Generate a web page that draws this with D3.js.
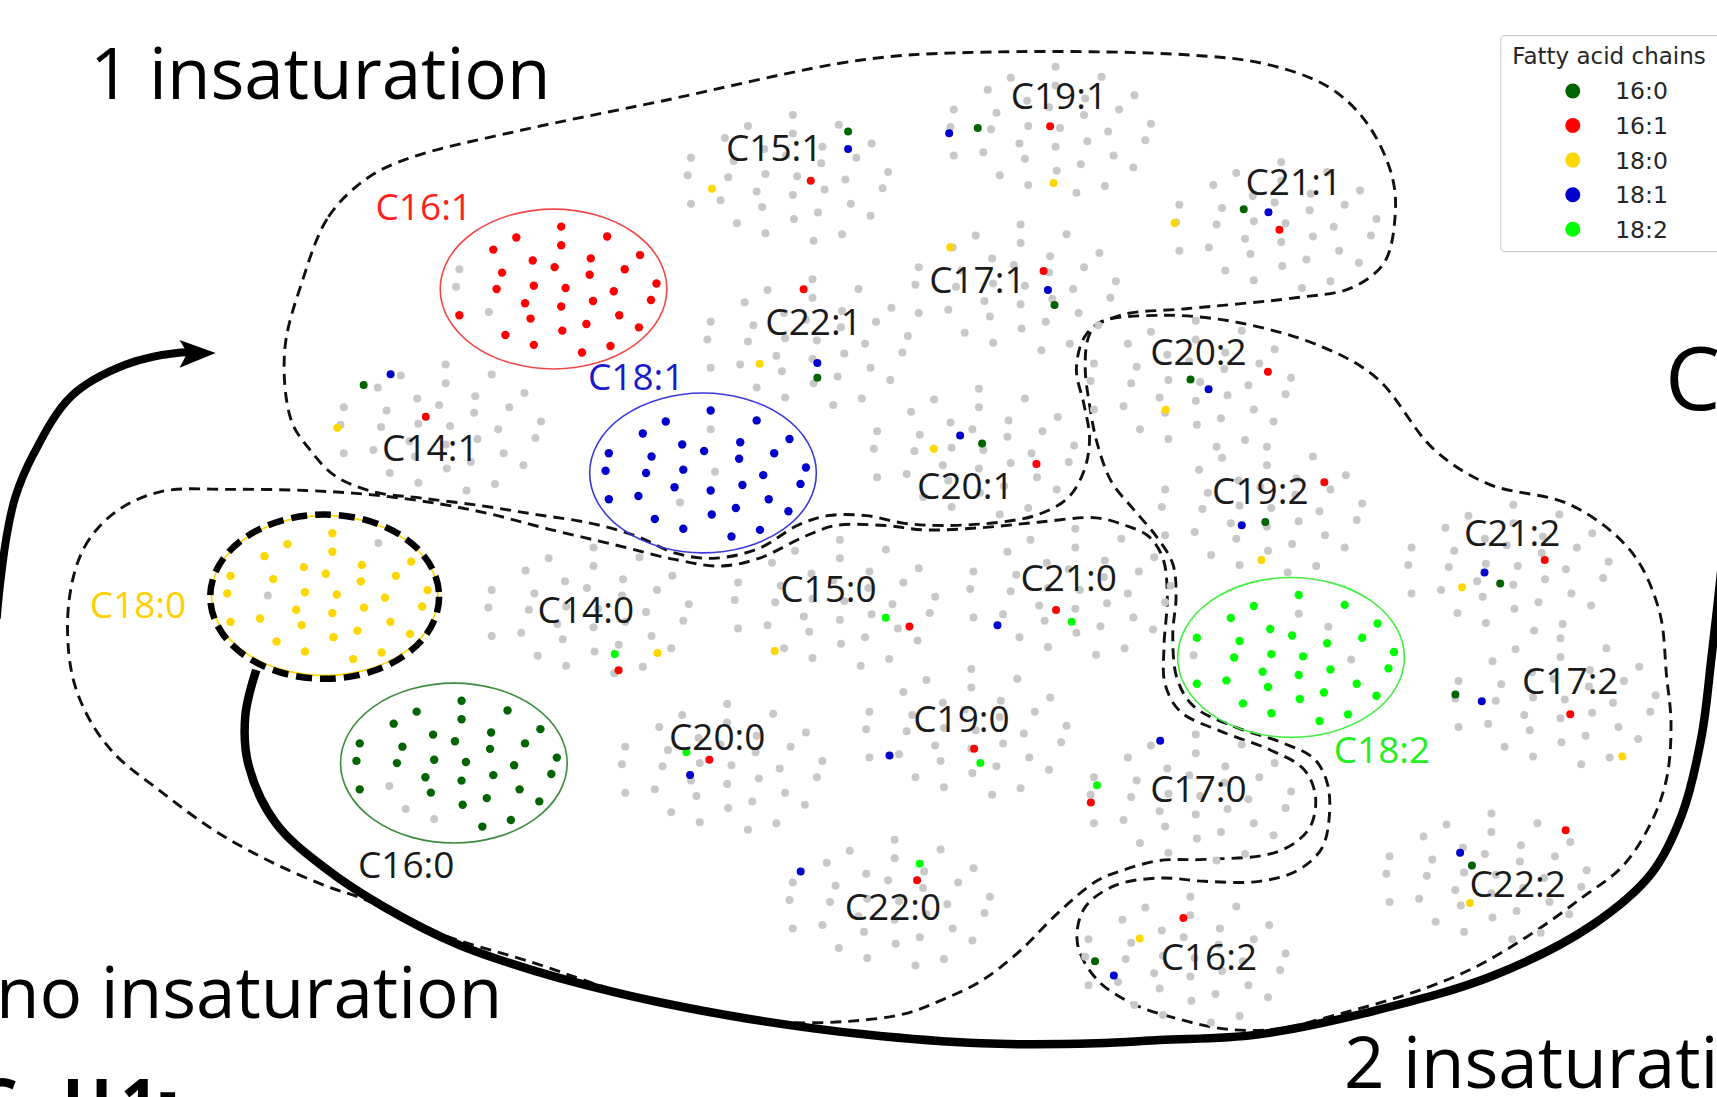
<!DOCTYPE html>
<html>
<head>
<meta charset="utf-8">
<script src="https://cdn.jsdelivr.net/npm/d3@7"></script>
<style>
  html, body { margin: 0; padding: 0; background: #fff; overflow: hidden; }
  svg { display: block; }
</style>
</head>
<body>
<svg id="chart" width="1717" height="1097"></svg>
<script>
// ---------------- DATA (map units) ----------------
const chainCategories = ["16:0", "16:1", "18:0", "18:1", "18:2"];

const clusterNames = ["C15:1","C19:1","C21:1","C17:1","C22:1","C14:1","C20:1","C20:2","C19:2","C21:2",
                      "C14:0","C15:0","C21:0","C20:0","C19:0","C17:2","C17:0","C22:0","C22:2","C16:2",
                      "C16:1","C18:1","C18:0","C16:0","C18:2"];
const clusterX = [717, 957, 1163, 925, 735, 400, 887, 1085, 1150, 1375,
                  535, 760, 975, 657, 880, 1418, 1085, 810, 1355, 1080,
                  505.5, 642, 296.5, 414.5, 1179];
const clusterY = [162, 118, 205, 262, 312, 390, 412, 350, 465, 518,
                  557, 550, 540, 700, 668, 640, 728, 824, 800, 876,
                  264, 432, 544, 697, 600.5];
const labelX = [707, 967, 1181.5, 892.6, 743, 393, 881.6, 1094.5, 1151, 1381,
                535, 756.6, 976, 655, 878, 1434, 1094.5, 815.5, 1386, 1104,
                387, 581, 126, 371, 1262];
const labelY = [147, 99.3, 177.8, 267.5, 306, 421, 455.5, 333, 460.6, 498.6,
                569.4, 549.5, 539.7, 684.8, 668.3, 633.5, 733, 840, 819.2, 886,
                201, 356, 564.4, 801.8, 696.8];

// Point pattern of one cluster (offsets from its centre), read from the C16:1 cluster
const patternDX = [7, -34, 49, -55, 7, 79, -19, 34, -47, 1, 33, 65, 94, -52, -18, 11, 55, 89, -26, 7,
                   36, -86, -21, 60, 8, 30, 78, -44, -18, 26, 52, -86, -89, -59];
const patternDY = [-57, -47, -48, -36, -40, -31, -26, -28, -15, -20, -13, -18, -5, 0, -3, -1, 2, 10, 13, 16,
                   11, 24, 27, 24, 38, 32, 35, 42, 51, 58, 52, -18, -2, 21];

// Clusters where every sample carries one chain
const highlightNames = ["C16:0", "C16:1", "C18:0", "C18:1", "C18:2"];
const highlightChain = ["16:0", "16:1", "18:0", "18:1", "18:2"];
const highlightGray  = [[33, 27, 28], [31, 32, 33], [2, 13], [4, 15, 22], [4, 7, 16, 32]];

// Single coloured samples inside the grey clusters: [cluster, chain, x, y]
const chainMarkers = [
  ["C15:1","16:0",774.5,120.1],["C15:1","18:1",774.5,136.1],["C15:1","16:1",740.4,165],["C15:1","18:0",650.2,172.3],
  ["C19:1","18:1",866.8,121.7],["C19:1","16:0",892.9,116.9],["C19:1","16:1",959,115.3],["C19:1","18:0",962,167.2],
  ["C21:1","16:0",1135.8,191.2],["C21:1","18:1",1158.4,193.8],["C21:1","16:1",1168.4,209.8],["C21:1","18:0",1072.7,203.7],
  ["C17:1","18:0",867.8,225.8],["C17:1","16:1",953,247.6],["C17:1","18:1",957,265],["C17:1","16:0",963,278.7],
  ["C22:1","16:1",733.9,264.3],["C22:1","18:0",693.8,332.2],["C22:1","18:1",746.4,331.5],["C22:1","16:0",746.4,345],
  ["C14:1","16:0",332.1,351.7],["C14:1","18:1",356.7,341.8],["C14:1","16:1",388.8,380.6],["C14:1","18:0",308.1,390.8],
  ["C20:1","18:1",876.8,397.8],["C20:1","16:0",896.9,405.2],["C20:1","18:0",852.8,410],["C20:1","16:1",946.5,423.8],
  ["C20:2","16:0",1087.2,346.6],["C20:2","18:1",1103.7,355.5],["C20:2","16:1",1157.9,339.5],["C20:2","18:0",1064.6,374.2],
  ["C19:2","16:1",1209.4,440.5],["C19:2","18:1",1134,479.8],["C19:2","16:0",1155.5,476.9],["C19:2","18:0",1152,511.4],
  ["C21:2","16:1",1410.7,511.4],["C21:2","18:1",1355.7,522.9],["C21:2","16:0",1370,533],["C21:2","18:0",1335.2,536.5],
  ["C14:0","18:2",561.4,597.4],["C14:0","18:0",600.5,596.4],["C14:0","16:1",564.9,612.1],
  ["C15:0","18:2",808.8,564.2],["C15:0","16:1",830.5,572.3],["C15:0","18:0",707.5,594.6],
  ["C21:0","16:1",964.4,557.1],["C21:0","18:2",978.7,568],["C21:0","18:1",910.9,571.2],
  ["C20:0","18:2",626.8,687.2],["C20:0","16:1",647.8,693.9],["C20:0","18:1",630.2,707.8],
  ["C19:0","16:1",889.6,683.8],["C19:0","18:2",895.2,697],["C19:0","18:1",812.3,690],
  ["C17:2","16:0",1329.1,634.3],["C17:2","18:1",1353.2,640.5],["C17:2","16:1",1434,652.3],["C17:2","18:0",1481.5,691.1],
  ["C17:0","18:1",1059.5,676.7],["C17:0","18:2",1001.8,717.3],["C17:0","16:1",996.2,733],
  ["C22:0","18:1",731.2,796],["C22:0","18:2",839.9,789],["C22:0","16:1",837.5,804],
  ["C22:2","16:1",1429.8,758.3],["C22:2","18:1",1333.4,778.8],["C22:2","16:0",1344.2,790.6],["C22:2","18:0",1342.4,824.7],
  ["C16:2","16:1",1080.7,838.4],["C16:2","18:0",1040.9,857.2],["C16:2","16:0",1000,878],["C16:2","18:1",1017.2,891]
];

// Region outlines (map units)
const regionOne = [[276,257],[300,198],[335,163],[375,144],[476,119],[601,93],[785,55],[883,48],[1083,50],[1158,59],
  [1214,80],[1248,112],[1271,160],[1274,198],[1264,240],[1234,263],[1183,272],[1083,282],[1023,288],[993,304],
  [983,336],[990,370],[995,400],[990,430],[975,455],[948,470],[913,477],[861,480],[826,478],[791,471],[756,471],
  [728,480],[693,501],[651,510],[616,505],[582,490],[540,478],[490,470],[440,462],[385,455],[340,449],[305,434],
  [284,412],[266,384],[260,320]];
const regionZero = [[63,549],[77,500],[105,468],[147,449],[210,447],[279,448],[340,452],[400,460],[450,470],[500,483],
  [563,498],[616,511],[658,517],[693,510],[735,490],[763,480],[808,480],[844,484],[896,482],[948,477],[1001,473],
  [1028,480],[1049,490],[1062,510],[1066,545],[1063,590],[1064,625],[1078,650],[1115,668],[1160,685],[1190,702],
  [1201,725],[1198,752],[1185,768],[1160,780],[1100,785],[1059,786],[1025,795],[1001,805],[966,834],[931,869],
  [896,896],[861,913],[826,926],[773,933],[721,934],[686,931],[620,920],[560,904],[489,880],[402,853],[332,821],
  [297,809],[245,786],[195,758],[147,723],[105,689],[80,654],[65,612]];
const regionTwo = [[1003,295],[1063,288],[1133,295],[1208,317],[1258,346],[1309,410],[1359,442],[1434,461],[1489,503],
  [1515,557],[1522,618],[1526,661],[1522,711],[1508,751],[1482,791],[1446,819],[1400,852],[1346,884],[1292,906],
  [1220,927],[1166,940],[1120,940],[1077,931],[1035,917],[1002,895],[984,862],[990,830],[1018,809],[1059,802],
  [1100,805],[1150,805],[1185,795],[1207,775],[1214,745],[1212,715],[1200,693],[1170,678],[1125,663],[1090,645],
  [1075,620],[1071,580],[1074,545],[1071,515],[1056,490],[1035,465],[1015,440],[1002,405],[995,370],[991,335],[994,308]];
const arrowMain = [[234,612],[224,654],[227,699],[252,752],[297,793],[350,828],[419,863],[489,887],[548,903],[600,915],
  [686,931],[791,945],[896,953],[1001,953],[1059,950],[1148,945],[1256,923],[1364,891],[1454,845],[1508,798],
  [1536,744],[1554,672],[1563,600],[1568,557],[1572,520]];
const arrowLeft = [[-3,565],[0,534],[6,490],[14,454],[30,416],[65,362],[115,333],[165,322],[180,322]];

// ---------------- SCALES ----------------
const svg = d3.select("#chart");
const sx = d3.scaleLinear().domain([0, 1568]).range([0, 1717]);
const sy = d3.scaleLinear().domain([0, 1002]).range([0, 1097]);
const chainColor = d3.scaleOrdinal(chainCategories, ["#006400", "#ff0000", "#ffd700", "#0000cd", "#00ff00"]);

const loop = d3.line().x(d => sx(d[0])).y(d => sy(d[1])).curve(d3.curveCatmullRomClosed.alpha(0.5));
const open = d3.line().x(d => sx(d[0])).y(d => sy(d[1])).curve(d3.curveCatmullRom.alpha(0.5));

const idx = name => clusterNames.indexOf(name);

// ---------------- REGIONS ----------------
const gReg = svg.append("g").attr("fill", "none").attr("stroke", "#111")
  .attr("stroke-width", 2.9).attr("stroke-dasharray", "11,7");
[regionOne, regionZero, regionTwo].forEach(r => gReg.append("path").attr("d", loop(r)));

// thick arrows
svg.append("path").attr("d", open(arrowMain)).attr("fill", "none")
  .attr("stroke", "#000").attr("stroke-width", 8.5).attr("stroke-linecap", "butt");
svg.append("path").attr("d", open(arrowLeft)).attr("fill", "none")
  .attr("stroke", "#000").attr("stroke-width", 8);
const head = [[197,322.5],[164,310.5],[171,322.5],[164,336]];
svg.append("path").attr("d", "M" + head.map(p => sx(p[0]) + "," + sy(p[1])).join("L") + "Z").attr("fill", "#000");

// ---------------- POINTS ----------------
const pts = [];
clusterNames.forEach((name, i) => {
  const h = highlightNames.indexOf(name);
  patternDX.forEach((dx, k) => {
    let col = "#c8c8c8";
    if (h >= 0 && !highlightGray[h].includes(k)) col = chainColor(highlightChain[h]);
    pts.push({x: clusterX[i] + dx, y: clusterY[i] + patternDY[k], c: col, hl: col !== "#c8c8c8"});
  });
});
const gPts = svg.append("g");
gPts.selectAll("circle.g").data(pts.filter(p => !p.hl)).join("circle")
  .attr("cx", d => sx(d.x)).attr("cy", d => sy(d.y)).attr("r", 4.0).attr("fill", d => d.c);
gPts.selectAll("circle.h").data(pts.filter(p => p.hl)).join("circle")
  .attr("cx", d => sx(d.x)).attr("cy", d => sy(d.y)).attr("r", 4.2).attr("fill", d => d.c);
gPts.selectAll("circle.m").data(chainMarkers).join("circle")
  .attr("cx", d => sx(d[2])).attr("cy", d => sy(d[3])).attr("r", 4.0).attr("fill", d => chainColor(d[1]));

// ---------------- ELLIPSES ----------------
const ellipseStroke = {"C16:0": "#3d8b3d", "C16:1": "#f04848", "C18:0": "#ffd700", "C18:1": "#3a3ad8", "C18:2": "#44ee44"};
highlightNames.forEach(name => {
  const i = idx(name);
  svg.append("ellipse").attr("cx", sx(clusterX[i])).attr("cy", sy(clusterY[i]))
    .attr("rx", sx(103.5) - sx(0)).attr("ry", sy(73) - sy(0))
    .attr("fill", "none").attr("stroke", ellipseStroke[name]).attr("stroke-width", 1.6);
});
{
  const i = idx("C18:0");
  svg.append("ellipse").attr("cx", sx(clusterX[i])).attr("cy", sy(clusterY[i] + 1))
    .attr("rx", sx(104.5) - sx(0)).attr("ry", sy(75) - sy(0))
    .attr("fill", "none").attr("stroke", "#000").attr("stroke-width", 6.5).attr("stroke-dasharray", "16,8");
}

// ---------------- LABELS ----------------
const labelColor = {"C16:1": "#ff1f1f", "C18:1": "#1a1acc", "C18:0": "#ffd000", "C18:2": "#22ee22"};
svg.append("g").selectAll("text").data(clusterNames).join("text")
  .attr("x", (d, i) => sx(labelX[i])).attr("y", (d, i) => sy(labelY[i]))
  .attr("text-anchor", "middle")
  .attr("font-family", "'Open Sans', 'Noto Sans', sans-serif").attr("font-size", 37)
  .attr("fill", d => labelColor[d] || "#1a1a1a")
  .text(d => d);

// big annotations
const big = svg.append("g").attr("font-family", "'Open Sans', 'Noto Sans', sans-serif").attr("fill", "#000");
big.append("text").attr("x", sx(82.2)).attr("y", sy(90.4)).attr("font-size", 71).text("1 insaturation");
big.append("text").attr("x", sx(-3.6)).attr("y", sy(929.7)).attr("font-size", 71).text("no insaturation");
big.append("text").attr("x", sx(1227.4)).attr("y", sy(993.8)).attr("font-size", 71).text("2 insaturation");
big.append("text").attr("x", sx(1520.5)).attr("y", sy(374.5)).attr("font-size", 88).text("C");
const cut = big.append("text").attr("y", sy(1029)).attr("font-size", 66).attr("font-weight", 700);
cut.append("tspan").attr("x", sx(-21.9)).text("C");
cut.append("tspan").attr("x", sx(56.6)).text("H");
cut.append("tspan").attr("x", sx(110)).text("1");
cut.append("tspan").attr("x", sx(145)).attr("dy", -16).attr("font-size", 56).text("-");

// ---------------- LEGEND ----------------
const lg = svg.append("g").attr("font-family", "'DejaVu Sans', sans-serif").attr("fill", "#262626");
lg.append("rect").attr("x", sx(1370.5)).attr("y", sy(32.6)).attr("width", sx(210) - sx(0)).attr("height", sy(197.3) - sy(0))
  .attr("rx", 4).attr("fill", "#fff").attr("stroke", "#d0d0d0").attr("stroke-width", 1.2);
lg.append("text").attr("x", sx(1469.4)).attr("y", sy(58.5)).attr("text-anchor", "middle")
  .attr("font-size", 23).text("Fatty acid chains");
const rowY = d3.scalePoint().domain(chainCategories).range([83.1, 209.4]);
lg.selectAll("circle").data(chainCategories).join("circle")
  .attr("cx", sx(1436.3)).attr("cy", d => sy(rowY(d))).attr("r", 7.5).attr("fill", d => chainColor(d));
lg.selectAll("text.item").data(chainCategories).join("text").attr("class", "item")
  .attr("x", sx(1475)).attr("y", d => sy(rowY(d)) + 8.5).attr("font-size", 23.5).text(d => d);
</script>
</body>
</html>
